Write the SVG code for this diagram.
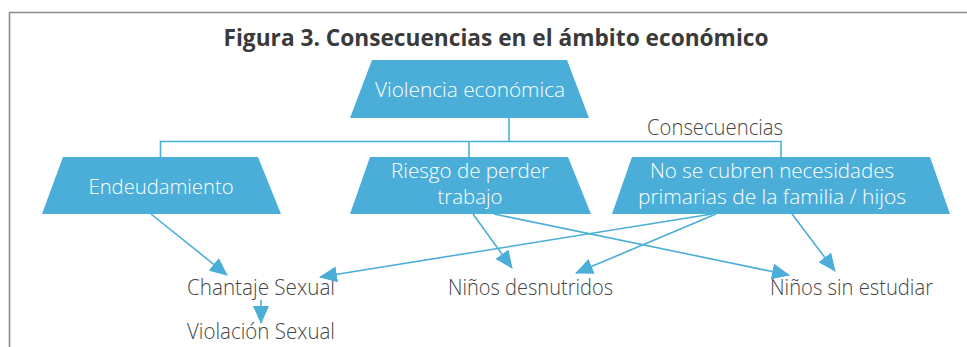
<svg xmlns="http://www.w3.org/2000/svg" width="967" height="347" viewBox="0 0 967 347">
<defs>
<style>
.frame{fill:none;stroke:#8c8c8c;stroke-width:1.6}
.box{fill:#4aaed9}
.conn{fill:none;stroke:#4aaed9;stroke-width:1.6}
.arr{fill:none;stroke:#4aaed9;stroke-width:1.6;marker-end:url(#ah)}
.t{font-family:"Open Sans","Liberation Sans",sans-serif;font-weight:300;font-size:21.5px;fill:#454545}
.w{font-family:"Open Sans","Liberation Sans",sans-serif;font-weight:300;font-size:21px;fill:#ffffff;text-anchor:middle}
.title{font-family:"Open Sans","Liberation Sans",sans-serif;font-weight:700;font-size:23.5px;fill:#3a3a3a;text-anchor:middle}
</style>
<marker id="ah" markerUnits="userSpaceOnUse" markerWidth="18" markerHeight="16" refX="17" refY="8" orient="auto">
<path d="M0,0 L18,8 L0,16 z" fill="#4aaed9"/>
</marker>
</defs>
<rect x="0" y="0" width="967" height="347" fill="#ffffff"/>
<path class="frame" d="M9.5,347 V12.5 H967"/>
<text class="title" x="496" y="46" textLength="545" lengthAdjust="spacingAndGlyphs">Figura 3. Consecuencias en el ámbito económico</text>

<g id="violencia">
<polygon class="box" points="372,60 567,60 589,118 350,118"/>
<text class="w" x="470" y="97" textLength="190" lengthAdjust="spacingAndGlyphs">Violencia económica</text>
</g>
<g id="endeudamiento">
<polygon class="box" points="63,157 258,157 281,214 42,214"/>
<text class="w" x="161" y="194" textLength="145" lengthAdjust="spacingAndGlyphs">Endeudamiento</text>
</g>
<g id="riesgo">
<polygon class="box" points="370,157 568,157 591,214 350,214"/>
<text class="w" x="470" y="178" textLength="158" lengthAdjust="spacingAndGlyphs">Riesgo de perder</text>
<text class="w" x="470" y="204" textLength="65" lengthAdjust="spacingAndGlyphs">trabajo</text>
</g>
<g id="necesidades">
<polygon class="box" points="632,157 930,157 950,214 612,214"/>
<text class="w" x="772" y="178" textLength="244" lengthAdjust="spacingAndGlyphs">No se cubren necesidades</text>
<text class="w" x="772" y="204" textLength="268" lengthAdjust="spacingAndGlyphs">primarias de la familia / hijos</text>
</g>
<g id="consecuencias">
<text class="t" x="647" y="135" textLength="136" lengthAdjust="spacingAndGlyphs">Consecuencias</text>
</g>
<g id="chantaje">
<text class="t" x="187" y="295" textLength="148" lengthAdjust="spacingAndGlyphs">Chantaje Sexual</text>
</g>
<g id="violacion">
<text class="t" x="187" y="339" textLength="148" lengthAdjust="spacingAndGlyphs">Violación Sexual</text>
</g>
<g id="desnutridos">
<text class="t" x="448" y="295" textLength="165" lengthAdjust="spacingAndGlyphs">Niños desnutridos</text>
</g>
<g id="estudiar">
<text class="t" x="770" y="295" textLength="163" lengthAdjust="spacingAndGlyphs">Niños sin estudiar</text>
</g>

<g id="connectors">
<path class="conn" d="M509,118 V141.5"/>
<path class="conn" d="M160.5,157 V141.5 H781 V157"/>
<path class="conn" d="M469,141.5 V157"/>
<path class="arr" d="M151,214 L227,275"/>
<path class="arr" d="M473,214 L512,268"/>
<path class="arr" d="M494,214 L789,275"/>
<path class="arr" d="M712,214 L320,277"/>
<path class="arr" d="M716,214 L576,273"/>
<path class="arr" d="M792,214 L835,271"/>
<path class="arr" d="M261,300 L261,323"/>
</g>
</svg>
